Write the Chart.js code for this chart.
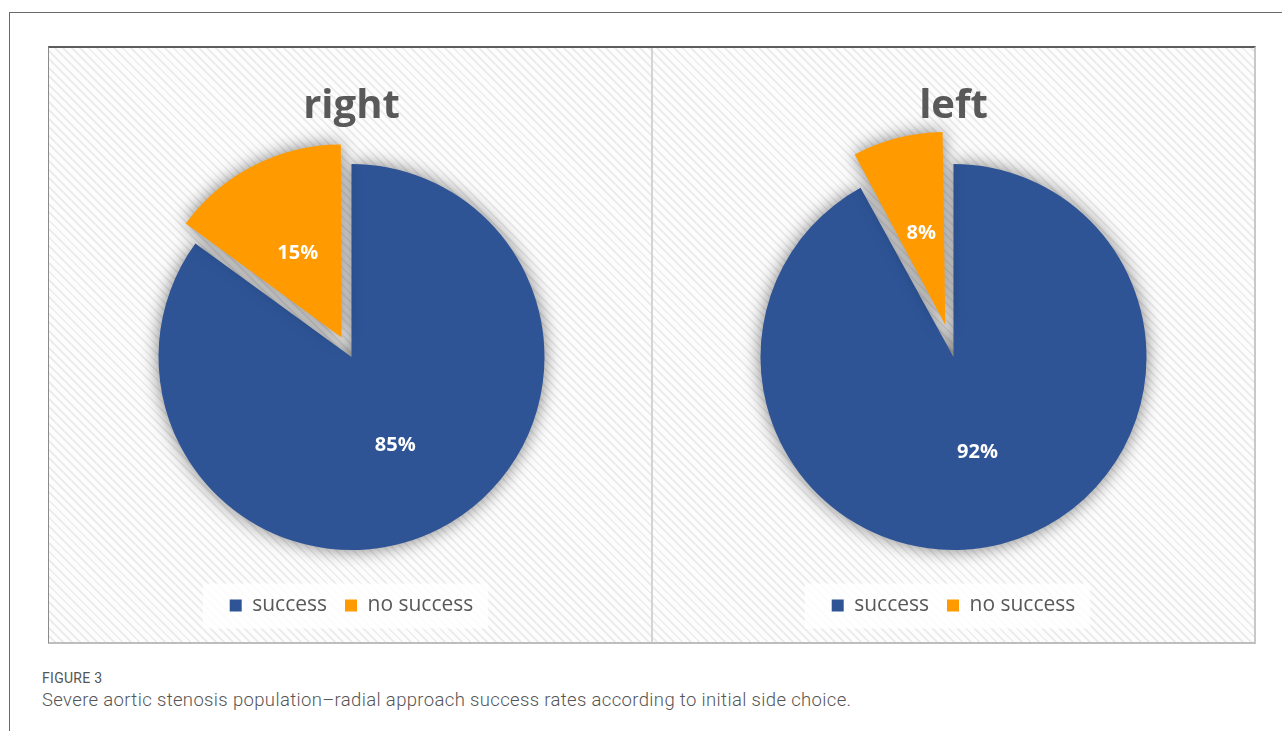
<!DOCTYPE html>
<html>
<head>
<meta charset="utf-8">
<script src="https://cdn.jsdelivr.net/npm/chart.js@4.4.1/dist/chart.umd.min.js"></script>
<style>
  html, body { margin: 0; padding: 0; background: #fff; }
  body { width: 1282px; height: 731px; position: relative; overflow: hidden; font-family: Roboto, 'Open Sans', sans-serif; }
  .frame { position: absolute; left: 9px; top: 12px; right: -5px; bottom: -5px; border-left: 1px solid #6a6a6a; border-top: 1px solid #6a6a6a; }
  .figure { position: absolute; left: 48px; top: 46px; width: 1205px; height: 594px;
    border-top: 2px solid #5c5c5c; border-left: 1px solid #8a8a8a; border-right: 2px solid #c8c8c8; border-bottom: 2px solid #bdbdbd;
    background: repeating-linear-gradient(45deg, #fdfdfd 0 3px, #ededed 3px 5px, #fdfdfd 5px 6px); }
  .panel { position: absolute; top: 0; height: 594px; }
  #pRight { left: 4px; width: 597px; }
  #pLeft { left: 604px; width: 601px; }
  .divider { position: absolute; left: 602px; top: 0; width: 2px; height: 594px; background: #d4d4d4; }
  .cap1 { position: absolute; left: 42px; top: 670px; font-size: 14px; color: #555; letter-spacing: 0.3px; }
  .cap2 { position: absolute; left: 42px; top: 689px; font-size: 18.5px; color: #555; font-weight: 300; letter-spacing: 0.35px; }
</style>
</head>
<body>
<div class="frame"></div>
<div class="figure">
  <div class="panel" id="pRight"><canvas id="chartRight"></canvas></div>
  <div class="divider"></div>
  <div class="panel" id="pLeft"><canvas id="chartLeft"></canvas></div>
</div>
<div class="cap1">FIGURE 3</div>
<div class="cap2">Severe aortic stenosis population–radial approach success rates according to initial side choice.</div>
<script>
// valores
const categories = ['success', 'no success'];
const rightValues = [85, 15];
const leftValues = [92, 8];
const sliceColors = ['#2e5496', '#ff9a00'];

const textGray = '#595959';

// sombra de los sectores + etiquetas de porcentaje + fondo de la leyenda
const pieExtras = {
  id: 'pieExtras',
  // Chart.js agranda el radio del sector separado; lo devolvemos al radio del pastel
  afterDatasetUpdate(chart, args) {
    args.meta.data.forEach(arc => {
      const off = (arc.options.offset || 0) / 4;
      if (!off) return;
      const fix = 1 - Math.sin(Math.min(Math.PI, arc.circumference));
      arc.outerRadius -= off * fix;
    });
  },
  beforeDraw(chart) {
    const lg = chart.legend;
    if (!lg || !lg.legendHitBoxes.length) return;
    const hb = lg.legendHitBoxes;
    const first = hb[0], last = hb[hb.length - 1];
    const cy = first.top + first.height / 2;
    const ctx = chart.ctx;
    ctx.save();
    ctx.fillStyle = 'rgba(255,255,255,0.8)';
    ctx.fillRect(first.left - 27, cy - 22, last.left + last.width - first.left + 42, 45);
    ctx.restore();
  },
  beforeDatasetsDraw(chart) {
    const ctx = chart.ctx;
    ctx.save();
    ctx.shadowColor = 'rgba(0,0,0,0.5)';
    ctx.shadowBlur = 18;
  },
  afterDatasetsDraw(chart) {
    const ctx = chart.ctx;
    ctx.restore();
    const meta = chart.getDatasetMeta(0);
    const R = meta.controller.outerRadius;
    const vals = chart.data.datasets[0].data;
    ctx.save();
    ctx.fillStyle = '#fff';
    ctx.font = 'bold 20px "Open Sans"';
    ctx.textAlign = 'center';
    ctx.textBaseline = 'middle';
    meta.data.forEach((arc, i) => {
      const mid = (arc.startAngle + arc.endAngle) / 2;
      const d = R / 2 + (arc.options.offset || 0) / 4;
      ctx.fillText(vals[i] + '%', arc.x + Math.cos(mid) * d, arc.y + Math.sin(mid) * d + 2);
    });
    ctx.restore();
  }
};

function pieChart(id, title, values, explode) {
  return new Chart(document.getElementById(id), {
    type: 'pie',
    data: {
      labels: categories,
      datasets: [{
        data: values,
        backgroundColor: sliceColors,
        borderWidth: 0,
        offset: explode,
        radius: 193,
        clip: false
      }]
    },
    options: {
      responsive: true,
      maintainAspectRatio: false,
      animation: false,
      layout: { padding: { top: 0, bottom: 16, left: 0, right: 0 } },
      plugins: {
        title: {
          display: true,
          text: title,
          color: textGray,
          font: { family: 'Open Sans', size: 40, weight: 'bold' },
          padding: { top: 35, bottom: 6 }
        },
        legend: {
          position: 'bottom',
          labels: {
            color: textGray,
            font: { family: 'Open Sans', size: 21 },
            boxWidth: 12,
            boxHeight: 12,
            padding: 18
          }
        },
        tooltip: { enabled: false }
      }
    },
    plugins: [pieExtras]
  });
}

// separación del sector en px de Chart.js (se desplaza offset/4)
pieChart('chartRight', 'right', rightValues, [0, 88]);
pieChart('chartLeft', 'left', leftValues, [0, 132]);
</script>
</body>
</html>
